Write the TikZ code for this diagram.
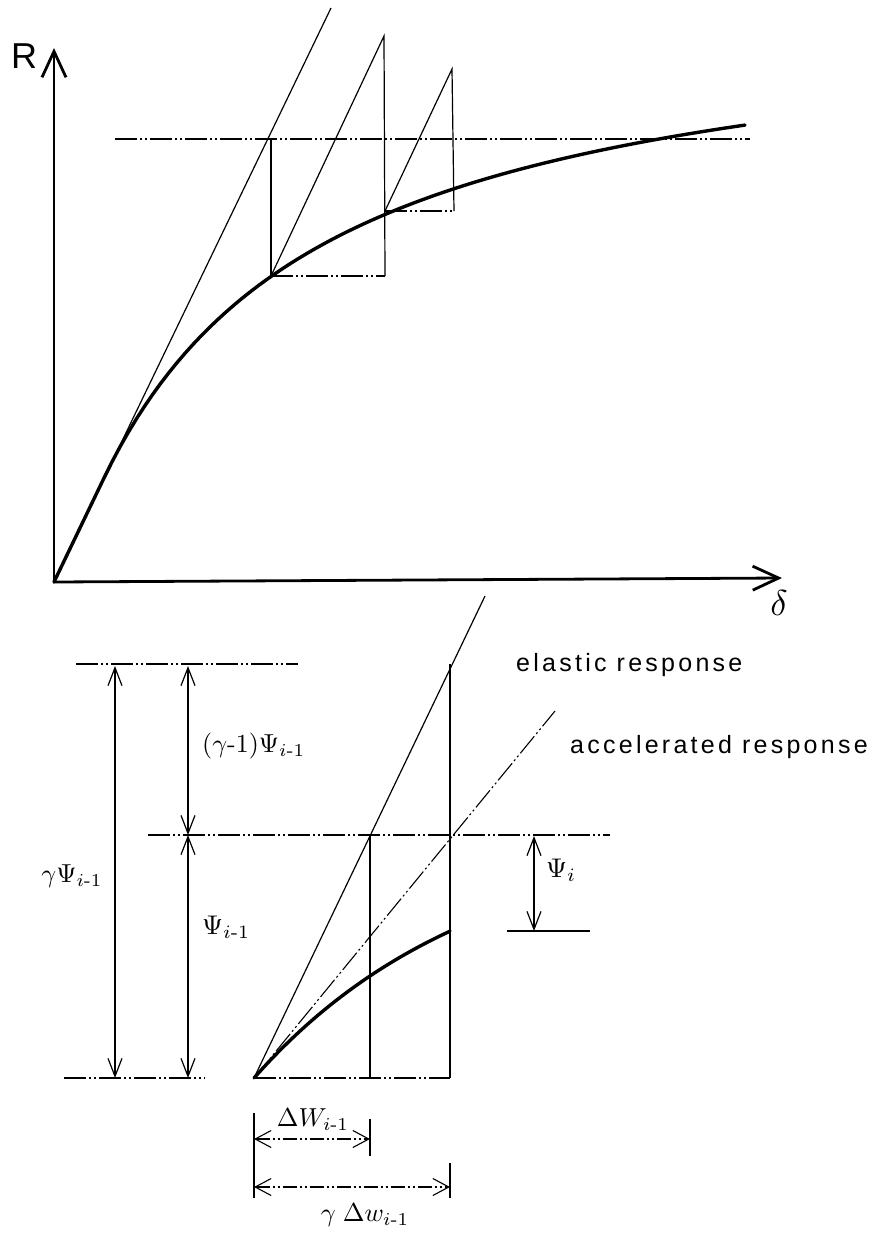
\documentclass[tikz,border=0pt]{standalone}
\usepackage{fontspec}
\usepackage{amsmath}
\setsansfont{Liberation Sans}
\newfontfamily\labfont[LetterSpace=13]{Liberation Sans}
\usetikzlibrary{arrows.meta}
\newcommand{\sclmath}[2]{\scalebox{#1}{$#2$}}
\begin{document}
\begin{tikzpicture}[x=1pt,y=-1pt,
  axisline/.style={line width=2.8pt, line cap=round, -{Straight Barb[length=26pt,width=24pt,line width=2.8pt]}},
  thinline/.style={line width=1.2pt},
  ddline/.style={line width=1.1pt, dash pattern=on 22pt off 3pt on 2pt off 3pt on 2pt off 3pt},
  curveline/.style={line width=3.4pt, line cap=round, line join=round},
  dimline/.style={line width=1.2pt, {Straight Barb[length=18pt,width=14pt]}-{Straight Barb[length=18pt,width=14pt]}},
  dimdd/.style={line width=1.1pt, dash pattern=on 14pt off 3pt on 2pt off 3pt on 2pt off 3pt, {Straight Barb[length=16pt,width=17pt]}-{Straight Barb[length=16pt,width=17pt]}},
  mathlab/.style={inner sep=0pt},
  textlab/.style={inner sep=0pt, anchor=west, font=\labfont\fontsize{25}{29}\selectfont}
]
\useasboundingbox (0,0) rectangle (881,1235);

% ---------------- upper diagram ----------------
\coordinate (O) at (54,582);
\coordinate (Ytip) at (54,48);
\coordinate (Xtip) at (782,578);
\coordinate (Etop) at (331,8);
\coordinate (HL) at (115,139);
\coordinate (HR) at (750,139);
\coordinate (A) at (271,276);
\coordinate (Atop) at (271,139);
\coordinate (B) at (385,211);
\coordinate (Bpk) at (384,36);
\coordinate (Bbot) at (385,276);
\coordinate (Cpk) at (452,69);
\coordinate (Cbot) at (454,211);
\coordinate (K) at (104,478);

\draw[axisline] (O) -- (Ytip);
\draw[axisline] (O) -- (Xtip);
\node[inner sep=0pt, font=\sffamily\fontsize{36}{40}\selectfont] (Rlab) at (24,56) {R};
\node[mathlab] (dlab) at (779,603) {\sclmath{3.6}{\delta}};

\draw[thinline] (O) -- (Etop);
\draw[ddline] (HL) -- (HR);
\draw[thinline] (Atop) -- (A);
\draw[thinline] (A) -- (Bpk) -- (Bbot);
\draw[ddline] (A) -- (Bbot);
\draw[thinline] (B) -- (Cpk) -- (Cbot);
\draw[ddline] (B) -- (Cbot);

\draw[curveline] (O) -- (K) -- plot[domain=104:745, samples=80] (\x, {478 - 480*(1 - 230.8/(\x-104+230.8))});

% ---------------- lower diagram ----------------
\coordinate (O2) at (254,1078);
\coordinate (E2) at (485,596);
\coordinate (P1) at (370,836);
\coordinate (P1b) at (370,1078);
\coordinate (P2) at (450,664);
\coordinate (P2b) at (450,1078);
\coordinate (Acc) at (555,711);

\coordinate (TL) at (76,664);
\coordinate (TR) at (298,664);
\coordinate (ML) at (148,835);
\coordinate (MR) at (610,835);
\coordinate (BL) at (64,1078);
\coordinate (BR) at (205,1078);

\draw[ddline] (TL) -- (TR);
\draw[ddline] (ML) -- (MR);
\draw[ddline] (BL) -- (BR);
\draw[ddline] (O2) -- (P2b);

\draw[thinline] (O2) -- (E2);
\draw[ddline] (O2) -- (Acc);
\draw[thinline] (P1) -- (P1b);
\draw[thinline] (P2) -- (P2b);
\draw[curveline] plot[domain=254:450, samples=40] (\x, {1078-249*(1-exp(-(\x-254)/220))});

% left dimension arrows
\coordinate (D1t) at (115,666);
\coordinate (D1b) at (115,1078);
\coordinate (D2t) at (188,666);
\coordinate (D2m) at (188,835);
\coordinate (D2b) at (188,1078);
\draw[dimline] (D1t) -- (D1b);
\draw[dimline] (D2t) -- (D2m);
\draw[dimline] (D2m) -- (D2b);

% psi_i
\coordinate (Pt) at (534,836);
\coordinate (Pb) at (534,931);
\coordinate (PbL) at (507,931);
\coordinate (PbR) at (590,931);
\draw[thinline] (PbL) -- (PbR);
\draw[dimline] (Pt) -- (Pb);

% bottom dimension arrows
\coordinate (T0a) at (254,1113);
\coordinate (T0b) at (254,1198);
\coordinate (T1a) at (370,1119);
\coordinate (T1b) at (370,1156);
\coordinate (T2a) at (450,1163);
\coordinate (T2b) at (450,1198);
\coordinate (W1l) at (254,1139);
\coordinate (W1r) at (370,1139);
\coordinate (W2l) at (254,1187);
\coordinate (W2r) at (450,1187);
\draw[thinline] (T0a) -- (T0b);
\draw[thinline] (T1a) -- (T1b);
\draw[thinline] (T2a) -- (T2b);
\draw[dimdd] (W1l) -- (W1r);
\draw[dimdd] (W2l) -- (W2r);

% labels
\node[textlab] (el) at (516,665) {elastic response};
\node[textlab] (ac) at (570,747) {accelerated response};
\node[mathlab] (gpsi) at (72,876) {\sclmath{2.6}{\gamma\Psi_{i\text{-}1}}};
\node[mathlab, anchor=west] (gm1) at (202,746) {\sclmath{2.6}{(\gamma\text{-}1)\Psi_{i\text{-}1}}};
\node[mathlab, anchor=west] (psim) at (202,927) {\sclmath{2.7}{\Psi_{i\text{-}1}}};
\node[mathlab, anchor=west] (psii) at (546,870) {\sclmath{2.7}{\Psi_{i}}};
\node[mathlab] (dw) at (313,1120) {\sclmath{2.6}{\Delta W_{i\text{-}1}}};
\node[mathlab] (gdw) at (365,1215) {\sclmath{2.6}{\gamma\;\Delta w_{i\text{-}1}}};
\end{tikzpicture}
\end{document}
